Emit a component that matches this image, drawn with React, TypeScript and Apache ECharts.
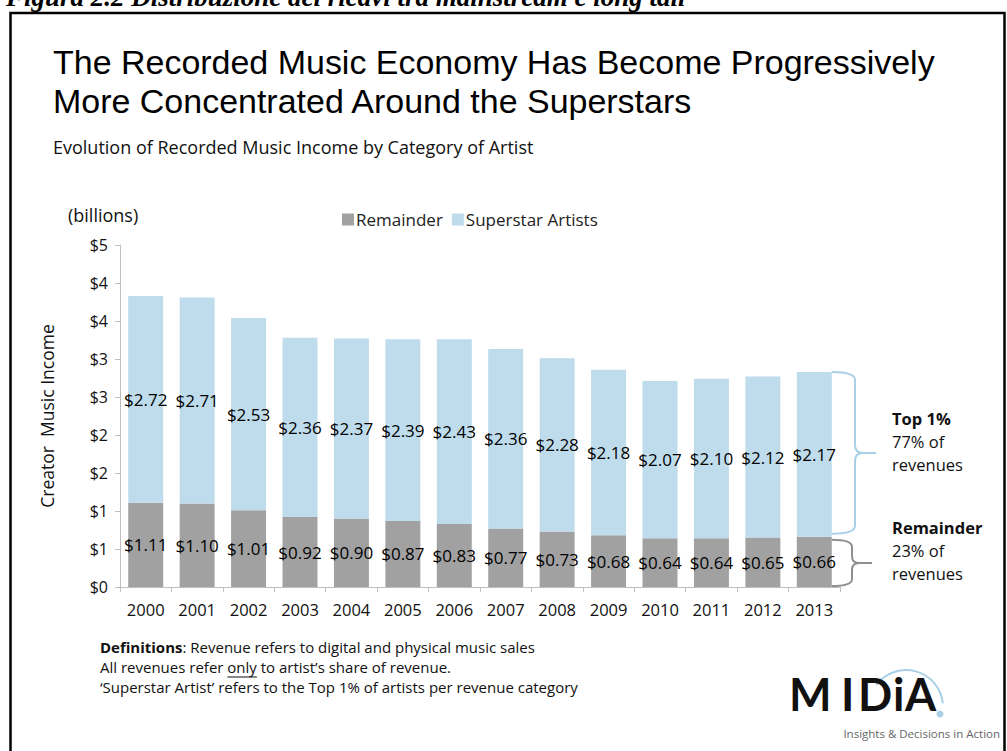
import React, { useEffect, useRef } from "react";
import * as echarts from "echarts";

const years = ["2000", "2001", "2002", "2003", "2004", "2005", "2006", "2007", "2008", "2009", "2010", "2011", "2012", "2013"];
const remainder = [1.11, 1.1, 1.01, 0.92, 0.9, 0.87, 0.83, 0.77, 0.73, 0.68, 0.64, 0.64, 0.65, 0.66];
const superstar = [2.72, 2.71, 2.53, 2.36, 2.37, 2.39, 2.43, 2.36, 2.28, 2.18, 2.07, 2.1, 2.12, 2.17];
const seriesNames = ["Remainder", "Superstar Artists"];
const yMax = 4.5;
const yInterval = 0.5;
const titleLines = [
  "The Recorded Music Economy Has Become Progressively",
  "More Concentrated Around the Superstars",
];
const subtitle = "Evolution of Recorded Music Income by Category of Artist";
const caption = "Figura 2.2 Distribuzione dei ricavi tra mainstream e long tail";
const topNote = ["Top 1%", "77% of", "revenues"];
const remNote = ["Remainder", "23% of", "revenues"];
const logoLetters: [string, number][] = [
  ["M", 789],
  ["I", 841],
  ["D", 858],
  ["i", 893],
  ["A", 905],
];

const FONT = "'Open Sans', 'DejaVu Sans', sans-serif";
const TITLE_FONT = "'Liberation Sans', Arial, sans-serif";
const GRAY = "#a1a1a1";
const BLUE = "#bedcec";

const Brace = echarts.graphic.extendShape({
  shape: { x0: 0, y1: 0, y2: 0, xv: 0, xt: 0, r: 7 },
  buildPath(ctx: any, s: any) {
    const ym = (s.y1 + s.y2) / 2;
    const r = Math.min(s.r, (s.y2 - s.y1) / 4);
    ctx.moveTo(s.x0, s.y1);
    ctx.quadraticCurveTo(s.xv, s.y1, s.xv, s.y1 + r);
    ctx.lineTo(s.xv, ym - r);
    ctx.quadraticCurveTo(s.xv, ym, s.xv + r, ym);
    ctx.lineTo(s.xt, ym);
    ctx.moveTo(s.xv + r, ym);
    ctx.quadraticCurveTo(s.xv, ym, s.xv, ym + r);
    ctx.lineTo(s.xv, s.y2 - r);
    ctx.quadraticCurveTo(s.xv, s.y2, s.x0, s.y2);
  },
});
echarts.graphic.registerShape("brace", Brace);

function measure(text: string, font: string) {
  const c = document.createElement("canvas").getContext("2d")!;
  c.font = font;
  return c.measureText(text).width;
}

export default function App() {
  const ref = useRef<HTMLDivElement>(null);
  useEffect(() => {
    document.body.style.margin = "0";
    const chart = echarts.init(ref.current!, null, { renderer: "svg" });
    const labelCfg = {
      show: true,
      position: "inside",
      color: "#000",
      fontFamily: FONT,
      fontSize: 17,
      formatter: (p: any) => "$" + p.value.toFixed(2),
    };
    const option: any = {
      animation: false,
      backgroundColor: "#ffffff",
      grid: { left: 120, top: 245, right: 167, bottom: 164, containLabel: false },
      legend: {
        data: seriesNames,
        left: 337,
        top: 206,
        icon: "rect",
        itemWidth: 12,
        itemHeight: 12,
        itemGap: 9,
        textStyle: { fontFamily: FONT, fontSize: 17, color: "#222", padding: [0, 0, 0, -3] },
      },
      xAxis: {
        type: "category",
        data: years,
        axisLine: { lineStyle: { color: "#bfbfbf", width: 1 } },
        axisTick: { show: true, length: 5, lineStyle: { color: "#bfbfbf" } },
        axisLabel: { fontFamily: FONT, fontSize: 16.5, color: "#111", margin: 14 },
      },
      yAxis: {
        type: "value",
        min: 0,
        max: yMax,
        interval: yInterval,
        axisLine: { show: true, lineStyle: { color: "#bfbfbf", width: 1 } },
        axisTick: { show: true, length: 5, lineStyle: { color: "#bfbfbf" } },
        splitLine: { show: false },
        axisLabel: {
          fontFamily: FONT,
          fontSize: 16,
          color: "#111",
          margin: 12,
          formatter: (v: number) => "$" + Math.round(v),
        },
      },
      series: [
        {
          name: seriesNames[0],
          type: "bar",
          stack: "total",
          data: remainder,
          barCategoryGap: "32%",
          itemStyle: { color: GRAY },
          label: labelCfg,
        },
        {
          name: seriesNames[1],
          type: "bar",
          stack: "total",
          data: superstar,
          barCategoryGap: "32%",
          itemStyle: { color: BLUE },
          label: labelCfg,
        },
      ],
    };
    chart.setOption(option);

    const last = years.length - 1;
    const pLast = chart.convertToPixel({ gridIndex: 0 }, [last, 0]) as number[];
    const pPrev = chart.convertToPixel({ gridIndex: 0 }, [last - 1, 0]) as number[];
    const band = pLast[0] - pPrev[0];
    const barRight = pLast[0] + (band * 0.68) / 2;
    const yZero = pLast[1];
    const yRem = (chart.convertToPixel({ gridIndex: 0 }, [last, remainder[last]]) as number[])[1];
    const yTot = (chart.convertToPixel({ gridIndex: 0 }, [last, remainder[last] + superstar[last]]) as number[])[1];

    const footFont = `15px ${FONT}`;
    const line2a = "All revenues refer ";
    const onlyW = measure("only", footFont);
    const line2aW = measure(line2a, footFont);
    const boldW = measure("Definitions", `bold 15px ${FONT}`);

    // fit the title's first line to the reference width
    const tw = measure(titleLines[0], `30px ${TITLE_FONT}`);
    const titleSize = Math.min(35, (30 * 882) / tw);

    const noteX = 892;
    const graphic: any[] = [
      {
        type: "text",
        left: 6,
        top: -17,
        style: { text: caption, font: `italic bold 27px 'Liberation Serif', 'DejaVu Serif', serif`, fill: "#000" },
      },
      {
        type: "rect",
        shape: { x: 10.5, y: 13, width: 994, height: 760 },
        style: { fill: "none", stroke: "#000", lineWidth: 2.5 },
      },
      ...titleLines.map((t, i) => ({
        type: "text",
        x: 53,
        y: 62 + i * 39,
        style: { text: t, font: `${titleSize}px ${TITLE_FONT}`, fill: "#000", verticalAlign: "middle" },
      })),
      {
        type: "text",
        x: 53,
        y: 147,
        style: { text: subtitle, font: `18px ${FONT}`, fill: "#111", verticalAlign: "middle" },
      },
      {
        type: "text",
        x: 68,
        y: 215,
        style: { text: "(billions)", font: `18px ${FONT}`, fill: "#111", verticalAlign: "middle" },
      },
      {
        type: "text",
        x: 47,
        y: 416,
        rotation: Math.PI / 2,
        style: { text: "Creator  Music Income", font: `17.5px ${FONT}`, fill: "#111", align: "center", verticalAlign: "middle" },
      },
      {
        type: "brace",
        shape: { x0: barRight, y1: yTot, y2: yRem - 3, xv: 855, xt: 876, r: 8 },
        style: { fill: "none", stroke: "#a9d0e6", lineWidth: 2 },
      },
      {
        type: "brace",
        shape: { x0: barRight, y1: yRem + 3, y2: yZero - 1, xv: 852, xt: 872, r: 7 },
        style: { fill: "none", stroke: "#8f8f8f", lineWidth: 2 },
      },
      ...topNote.map((t, i) => ({
        type: "text",
        x: noteX,
        y: 418 + i * 23,
        style: { text: t, font: `${i === 0 ? "bold " : ""}16.5px ${FONT}`, fill: "#111", verticalAlign: "middle" },
      })),
      ...remNote.map((t, i) => ({
        type: "text",
        x: noteX,
        y: 527 + i * 23,
        style: { text: t, font: `${i === 0 ? "bold " : ""}16.5px ${FONT}`, fill: "#111", verticalAlign: "middle" },
      })),
      {
        type: "text",
        x: 100,
        y: 647,
        style: { text: "Definitions", font: `bold 15px ${FONT}`, fill: "#111", verticalAlign: "middle" },
      },
      {
        type: "text",
        x: 100 + boldW,
        y: 647,
        style: { text: ": Revenue refers to digital and physical music sales", font: footFont, fill: "#111", verticalAlign: "middle" },
      },
      {
        type: "text",
        x: 100,
        y: 667,
        style: { text: line2a + "only to artist\u2019s share of revenue.", font: footFont, fill: "#111", verticalAlign: "middle" },
      },
      {
        type: "line",
        shape: { x1: 100 + line2aW, y1: 677, x2: 100 + line2aW + onlyW, y2: 677 },
        style: { stroke: "#111", lineWidth: 1 },
      },
      {
        type: "text",
        x: 100,
        y: 687,
        style: { text: "\u2018Superstar Artist\u2019 refers to the Top 1% of artists per revenue category", font: footFont, fill: "#111", verticalAlign: "middle" },
      },
      // MIDiA logo
      {
        type: "arc",
        shape: { cx: 906, cy: 707, r: 37, startAngle: -2.5, endAngle: -0.1, clockwise: true },
        style: { stroke: "#a9d0e6", lineWidth: 2, fill: "none" },
      },
      {
        type: "circle",
        shape: { cx: 940, cy: 714, r: 3.5 },
        style: { fill: "#a9d0e6" },
      },
      ...logoLetters.map(([ch, x]) => ({
        type: "text",
        x,
        y: 716,
        style: { text: ch, font: `bold 45px 'Lato', 'Open Sans', sans-serif`, fill: "#111", verticalAlign: "bottom" },
      })),
      {
        type: "text",
        x: 1000,
        y: 733,
        style: { text: "Insights & Decisions in Action", font: `11.5px ${FONT}`, fill: "#666", align: "right", verticalAlign: "middle" },
      },
    ];
    chart.setOption({ graphic });
    return () => chart.dispose();
  }, []);
  return <div ref={ref} style={{ width: 1007, height: 751 }} />;
}
